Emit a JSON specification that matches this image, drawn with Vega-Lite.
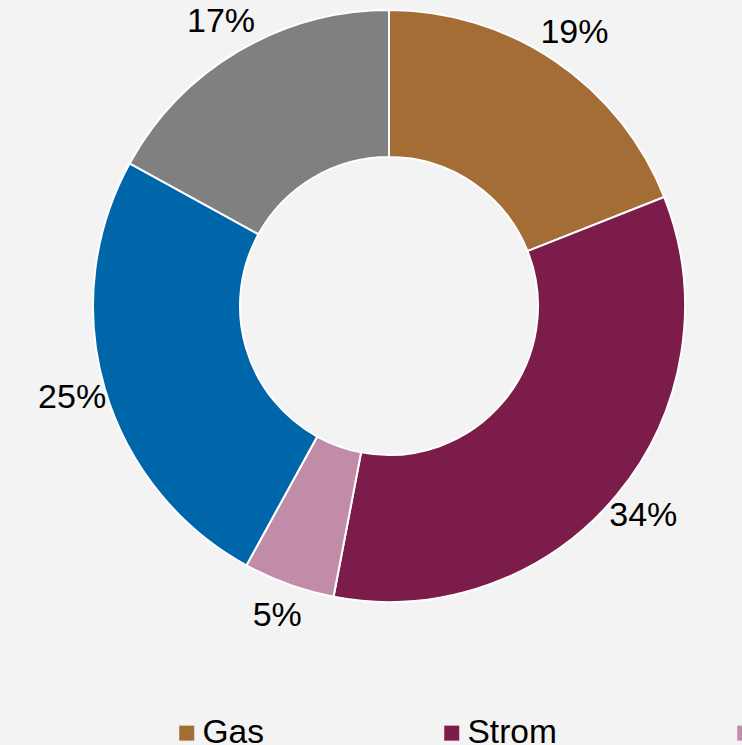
{
  "$schema": "https://vega.github.io/schema/vega-lite/v6.json",
  "width": 706,
  "height": 612,
  "autosize": {"type": "none"},
  "padding": {"left": 36, "top": 0, "right": 0, "bottom": 133},
  "background": "#F3F3F3",
  "config": {"view": {"stroke": null}, "font": "Liberation Sans"},
  "data": {
    "values": [
      {"Kategorie": "Gas", "Anteil": 19, "Label": "19%", "Reihenfolge": 1},
      {"Kategorie": "Strom", "Anteil": 34, "Label": "34%", "Reihenfolge": 2},
      {"Kategorie": "Fernwärme", "Anteil": 5, "Label": "5%", "Reihenfolge": 3},
      {"Kategorie": "Heizöl", "Anteil": 25, "Label": "25%", "Reihenfolge": 4},
      {"Kategorie": "Sonstige", "Anteil": 17, "Label": "17%", "Reihenfolge": 5}
    ]
  },
  "encoding": {
    "theta": {"field": "Anteil", "type": "quantitative", "stack": true},
    "order": {"field": "Reihenfolge", "type": "quantitative"}
  },
  "layer": [
    {
      "mark": {"type": "arc", "outerRadius": 296, "innerRadius": 149, "stroke": "#FFFFFF", "strokeWidth": 2},
      "encoding": {
        "color": {
          "field": "Kategorie",
          "type": "nominal",
          "scale": {
            "domain": ["Gas", "Strom", "Fernwärme", "Heizöl", "Sonstige"],
            "range": ["#A36D35", "#7C1C4B", "#C18CA7", "#0066AA", "#808080"]
          },
          "legend": {
            "title": null,
            "orient": "none",
            "legendX": 134,
            "legendY": 716,
            "direction": "horizontal",
            "columns": 5,
            "columnPadding": 171,
            "symbolType": "square",
            "symbolSize": 225,
            "symbolStrokeWidth": 0,
            "labelFontSize": 33.5,
            "labelColor": "#000000",
            "labelOffset": -1,
            "labelLimit": 400
          }
        }
      }
    },
    {
      "mark": {"type": "text", "radius": 330, "fontSize": 34},
      "encoding": {
        "text": {"field": "Label", "type": "nominal"},
        "color": {"value": "#000000"}
      }
    }
  ]
}
